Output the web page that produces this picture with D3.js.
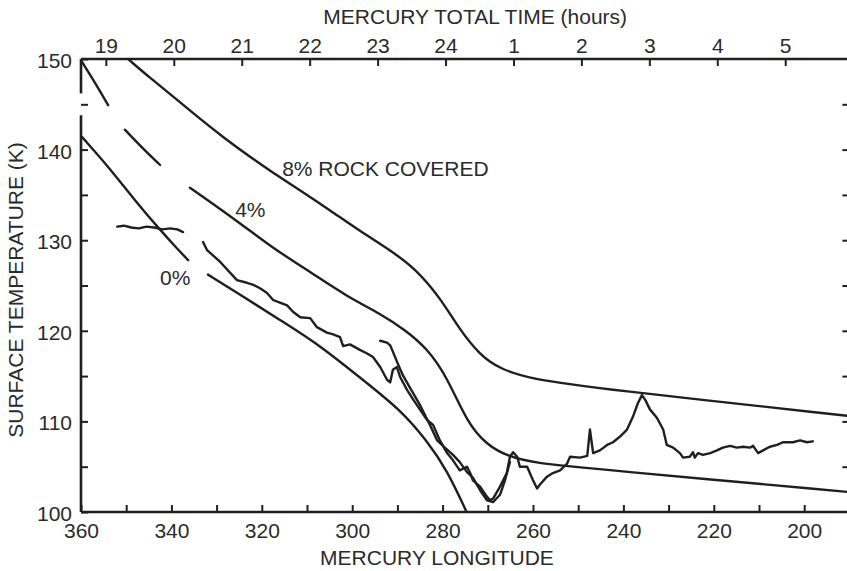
<!DOCTYPE html>
<html><head><meta charset="utf-8">
<script src="https://cdn.jsdelivr.net/npm/d3@7"></script>
<style>
  body { margin: 0; background: #fff; }
  svg text { font-family: "Liberation Sans", Arial, Helvetica, sans-serif; fill: #2b2b2b; font-size: 21px; }
</style></head><body>
<svg id="chart" width="847" height="571"></svg>
<script>
// Model cooling curves, [longitude (deg), surface temperature (K)]
const rock8 = [[349.6,150.0],[344.7,147.9],[339.2,145.7],[333.7,143.4],[328.1,141.2],[322.6,139.2],[317.1,137.3],
  [311.5,135.5],[304.9,133.3],[298.3,131.0],[291.6,128.9],[286.1,126.9],[280.6,123.7],[276.2,120.1],[271.7,117.3],
  [267.3,115.8],[260.7,114.7],[245.2,113.6],[190.0,110.6]];
const rock4a = [[359.8,149.7],[356.9,147.4],[354.0,144.9]];
const rock4b = [[350.3,142.2],[346.5,140.2],[342.5,138.3]];
const rock4c = [[335.9,135.8],[325.9,132.3],[317.5,129.1],[309.3,126.5],[301.2,123.8],[293.8,121.9],[288.3,120.1],
  [283.5,118.1],[279.0,114.9],[274.6,109.9],[270.2,107.4],[265.8,106.2],[260.0,105.4],[245.2,104.7],[190.0,102.2]];
const rock0a = [[359.8,141.4],[353.9,138.1],[348.1,134.4],[342.8,131.3],[338.4,128.9],[336.3,127.8]];
const rock0b = [[331.9,126.2],[324.8,124.0],[316.0,121.2],[307.1,118.4],[296.7,114.2],[289.4,111.3],[283.5,107.9],
  [279.0,104.6],[274.6,99.9]];

// Observed brightness temperatures
const obsShort = [[352.0,131.5],[350.5,131.6],[348.9,131.4],[347.2,131.3],[345.5,131.5],[343.8,131.4],[342.0,131.2],
  [340.3,131.3],[338.7,131.2],[337.4,130.9]];
const obsMain = [[333.0,129.8],[332.1,128.9],[329.2,127.6],[325.5,125.6],[323.3,125.3],[322.0,125.1],[320.4,124.7],
  [318.9,124.2],[317.5,123.4],[316.0,123.1],[314.4,122.8],[313.1,122.1],[311.5,121.5],[309.3,121.4],[307.8,120.4],
  [305.6,119.8],[304.2,119.6],[302.7,119.3],[302.0,118.3],[300.5,118.5],[298.3,117.9],[296.7,117.5],[295.4,117.1],
  [293.8,116.0],[292.3,114.6],[291.6,114.3],[291.0,115.7],[290.1,116.0],[289.4,114.9],[287.9,113.5],[286.5,112.4],
  [285.0,111.3],[283.5,110.2],[282.1,109.6],[280.6,107.9],[279.0,106.5],[277.7,105.7],[276.2,104.6],[274.6,105.0],
  [273.9,104.3],[273.3,103.5],[271.7,102.8],[270.2,101.7],[269.5,101.3],[268.8,101.5],[267.3,102.8],[265.8,104.3],
  [265.1,106.1],[264.4,106.6],[263.5,106.1],[262.9,105.0],[261.3,105.0],[260.7,104.3],[260.0,103.5],[259.1,102.6],
  [258.5,103.0],[256.9,103.9],[255.6,104.3],[254.0,104.6],[252.5,105.3],[251.8,106.1],[249.6,106.0],[248.0,106.2],
  [247.4,109.1],[246.7,106.5],[245.2,106.8],[243.6,107.4],[242.3,107.7],[240.8,108.3],[239.2,109.1],[237.9,110.5],
  [236.8,112.0],[235.9,112.9],[235.2,112.4],[234.1,111.3],[232.6,110.4],[231.2,109.1],[230.4,107.4],[229.0,107.1],
  [227.5,106.5],[226.8,106.0],[225.3,106.1],[224.6,106.6],[224.2,106.0],[223.5,106.5],[222.4,106.3],[220.8,106.5],
  [219.3,106.8],[218.0,107.1],[216.4,107.3],[214.9,107.1],[213.5,107.2],[212.0,107.1],[211.3,107.3],[210.2,106.5],
  [209.1,106.8],[207.6,107.2],[206.0,107.4],[204.7,107.7],[202.5,107.7],[200.9,107.9],[199.4,107.7],[198.1,107.8]];
const obsSecond = [[293.8,118.9],[292.3,118.7],[291.6,118.4],[291.0,117.7],[290.1,116.6],[288.8,115.1],[287.2,113.7],
  [285.0,111.8],[282.8,109.6],[281.2,107.9],[279.5,107.1],[277.7,106.3],[276.2,105.5],[274.6,104.4],[273.3,103.8],
  [271.7,102.4],[270.2,101.3],[268.8,101.1],[267.3,101.9],[266.2,103.5],[265.1,105.5]];

// Axis ticks and labels
const lonTicks = [360,350,340,330,320,310,300,290,280,270,260,250,240,230,220,210,200];
const tempTicks = [100,105,110,115,120,125,130,135,140,145,150];
const hourTicks = [19,20,21,22,23,24,25,26,27,28,29];
const hourLabels = ["19","20","21","22","23","24","1","2","3","4","5"];
// Longitudes reached at 19 h and at 5 h of Mercury total time
const hourLonStart = 354.5, hourLonEnd = 204.2;

const svg = d3.select("#chart");
const x = d3.scaleLinear().domain([360, 190]).range([81, 849.4]);
const y = d3.scaleLinear().domain([100, 150]).range([512, 59]);
const t = d3.scaleLinear().domain([19, 29]).range([x(hourLonStart), x(hourLonEnd)]);

const ink = "#1f1f1f";

// Bottom axis: longitude
const gx = svg.append("g").attr("transform", `translate(0,${y(100)})`)
  .call(d3.axisBottom(x).tickValues(lonTicks).tickSizeInner(-7).tickSizeOuter(0).tickPadding(11)
    .tickFormat(d => d % 20 === 0 ? d : ""));
// Left axis: temperature
const gy = svg.append("g").attr("transform", `translate(${x(360)},0)`)
  .call(d3.axisLeft(y).tickValues(tempTicks).tickSizeInner(-7).tickSizeOuter(0).tickPadding(9)
    .tickFormat(d => d % 10 === 0 ? d : ""));
// Top axis: Mercury total time
const gt = svg.append("g").attr("transform", `translate(0,${y(150)})`)
  .call(d3.axisTop(t).tickValues(hourTicks).tickSizeInner(-7).tickSizeOuter(0).tickPadding(6)
    .tickFormat((d, i) => hourLabels[i]));
// Right axis: tick marks only
const gr = svg.append("g").attr("transform", `translate(${x(190)},0)`)
  .call(d3.axisRight(y).tickValues(tempTicks.slice(1, -1)).tickSizeInner(-7).tickSizeOuter(0).tickFormat(""));

[gx, gy, gt, gr].forEach(g => {
  g.select(".domain").remove();
  g.selectAll(".tick line").attr("stroke", ink).attr("stroke-width", 2);
  g.selectAll(".tick text").style("font-size", "21px").attr("fill", "#2b2b2b");
});
gy.selectAll(".tick text").attr("dy", "0.4em");

// Frame: top and bottom edges, left spine with its break
const spine = d3.line().x(d => x(d[0])).y(d => y(d[1]));
const frame = svg.append("g").attr("fill", "none").attr("stroke", ink).attr("stroke-width", 2.6);
frame.append("path").attr("d", spine([[360,150],[190,150]]));
frame.append("path").attr("d", spine([[360,100],[190,100]]));
frame.append("path").attr("d", spine([[360,150],[360,146.2]]));
frame.append("path").attr("d", spine([[360,143.8],[360,100]]));

// Clip region for the plotted curves
svg.append("clipPath").attr("id", "plot").append("rect")
  .attr("x", x(360)).attr("y", y(150)).attr("width", x(190) - x(360)).attr("height", y(100) - y(150));

const smooth = d3.line().x(d => x(d[0])).y(d => y(d[1])).curve(d3.curveBasis);
const jagged = d3.line().x(d => x(d[0])).y(d => y(d[1]));

const curves = svg.append("g").attr("clip-path", "url(#plot)").attr("fill", "none")
  .attr("stroke", ink).attr("stroke-linejoin", "round").attr("stroke-linecap", "round");
[rock8, rock4a, rock4b, rock4c, rock0a, rock0b].forEach(seg =>
  curves.append("path").attr("d", smooth(seg)).attr("stroke-width", 2.4));
[obsShort, obsMain, obsSecond].forEach(seg =>
  curves.append("path").attr("d", jagged(seg)).attr("stroke-width", 2.4));

// Curve labels
svg.append("text").attr("x", x(315.5)).attr("y", y(137.1)).text("8% ROCK COVERED");
svg.append("text").attr("x", x(325.9)).attr("y", y(132.6)).text("4%");
svg.append("text").attr("x", x(342.5)).attr("y", y(125.1)).text("0%");

// Axis titles
svg.append("text").attr("x", (x(360) + x(190)) / 2 + 10).attr("y", 24).attr("text-anchor", "middle")
  .text("MERCURY TOTAL TIME (hours)");
svg.append("text").attr("x", 437).attr("y", 565).attr("text-anchor", "middle").text("MERCURY LONGITUDE");
svg.append("text").attr("transform", "translate(23,290) rotate(-90)").attr("text-anchor", "middle")
  .text("SURFACE TEMPERATURE (K)");
</script>
</body></html>
